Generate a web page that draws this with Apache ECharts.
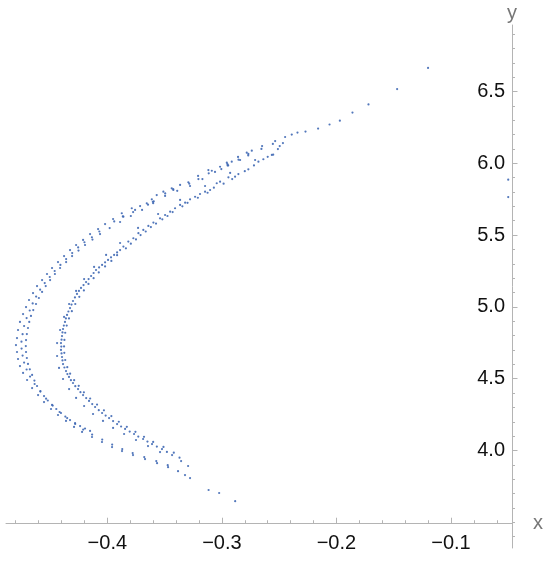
<!DOCTYPE html>
<html><head><meta charset="utf-8">
<script src="https://cdn.jsdelivr.net/npm/echarts@6/dist/echarts.min.js"></script>
<style>html,body{margin:0;padding:0;background:#fff}#c{width:550px;height:564px}</style>
</head><body><div id="c"></div>
<script>
// ---- data (x, y) ----
const tailPts = [[-0.120,6.664],[-0.147,6.517],[-0.172,6.410],[-0.186,6.353],[-0.197,6.297],[-0.206,6.270],[-0.216,6.242],[-0.227,6.221],[-0.234,6.214],[-0.239,6.200]];
const outerA = [[-0.2448,6.183],[-0.2535,6.155],[-0.2649,6.120],[-0.2739,6.088],[-0.2769,6.065],[-0.2783,6.074],[-0.2859,6.044],[-0.2914,6.011],[-0.2952,5.995],[-0.2957,6.004],[-0.3016,5.976],[-0.3088,5.948],[-0.3118,5.953],[-0.3208,5.912],[-0.3293,5.868],[-0.3365,5.849],[-0.3424,5.814],[-0.3438,5.826],[-0.3511,5.802],[-0.3569,5.779],[-0.3603,5.732],[-0.3612,5.749],[-0.3656,5.721],[-0.3714,5.702],[-0.3758,5.675],[-0.3787,5.687],[-0.3860,5.628],[-0.3874,5.652],[-0.3950,5.612],[-0.4020,5.577],[-0.4081,5.542],[-0.4151,5.507],[-0.4212,5.466],[-0.4273,5.431],[-0.4326,5.396],[-0.4378,5.354],[-0.4431,5.312],[-0.4483,5.271],[-0.4527,5.229],[-0.4570,5.187],[-0.4614,5.145],[-0.4649,5.096],[-0.4684,5.048],[-0.4710,4.999],[-0.4736,4.950],[-0.4763,4.895],[-0.4780,4.839],[-0.4789,4.783],[-0.4798,4.734],[-0.4789,4.686],[-0.4780,4.637],[-0.4763,4.588],[-0.4736,4.540],[-0.4701,4.491],[-0.4657,4.435],[-0.4605,4.386],[-0.4553,4.337],[-0.4492,4.289],[-0.4431,4.247],[-0.4361,4.206],[-0.4291,4.164],[-0.4221,4.129],[-0.4134,4.094],[-0.4047,4.059],[-0.3959,4.024],[-0.3872,3.996],[-0.3776,3.968],[-0.3671,3.940],[-0.3566,3.912],[-0.3470,3.884],[-0.3383,3.856]];
const outerA2 = [[-0.2841,6.023],[-0.3060,5.940],[-0.3278,5.842],[-0.3496,5.773],[-0.3697,5.675],[-0.3889,5.591],[-0.4064,5.507],[-0.4195,5.431],[-0.4308,5.354],[-0.4413,5.271],[-0.4500,5.187],[-0.4570,5.104],[-0.4623,5.020],[-0.4667,4.937],[-0.4693,4.853],[-0.4710,4.769],[-0.4710,4.686],[-0.4693,4.603],[-0.4657,4.526],[-0.4614,4.449],[-0.4553,4.379],[-0.4483,4.317],[-0.4405,4.261],[-0.4326,4.212],[-0.4238,4.170],[-0.4151,4.136]];
const outerA3 = [[-0.2555,6.135],[-0.2655,6.100],[-0.2770,6.055],[-0.2855,6.025],[-0.2945,5.985],[-0.3005,5.960],[-0.3115,5.930],[-0.3205,5.890],[-0.3285,5.858],[-0.3425,5.820],[-0.3495,5.790],[-0.3595,5.735],[-0.3645,5.712],[-0.3775,5.660],[-0.3865,5.630],[-0.3940,5.595],[-0.4070,5.525],[-0.4135,5.485],[-0.4200,5.450],[-0.4255,5.414],[-0.4307,5.375],[-0.4360,5.333],[-0.4410,5.292],[-0.4460,5.250],[-0.4503,5.208],[-0.4547,5.166],[-0.4587,5.120],[-0.4622,5.072],[-0.4652,5.024],[-0.4678,4.975],[-0.4705,4.922],[-0.4727,4.867],[-0.4740,4.810],[-0.4750,4.758],[-0.4749,4.710],[-0.4740,4.661],[-0.4727,4.612],[-0.4705,4.564],[-0.4675,4.515],[-0.4635,4.463],[-0.4585,4.410],[-0.4535,4.361],[-0.4477,4.313],[-0.4417,4.268],[-0.4351,4.226],[-0.4281,4.185],[-0.4211,4.146],[-0.4133,4.111],[-0.4045,4.076],[-0.3958,4.041],[-0.3870,4.010],[-0.3779,3.982],[-0.3678,3.954],[-0.3573,3.926],[-0.3473,3.898]];
const outerA4 = [[-0.2950,5.985],[-0.3170,5.890],[-0.3390,5.808],[-0.3600,5.722],[-0.3795,5.633],[-0.3980,5.549],[-0.4130,5.469],[-0.4252,5.392],[-0.4360,5.312],[-0.4458,5.229],[-0.4538,5.145],[-0.4598,5.062],[-0.4647,4.978],[-0.4682,4.895],[-0.4703,4.811],[-0.4712,4.727],[-0.4703,4.644],[-0.4677,4.565],[-0.4637,4.487],[-0.4585,4.414],[-0.4520,4.348],[-0.4446,4.289],[-0.4367,4.236],[-0.4282,4.191],[-0.4195,4.153]];
const innerB = [[-0.2467,6.141],[-0.2511,6.099],[-0.2552,6.060],[-0.2564,6.058],[-0.2638,6.028],[-0.2681,6.011],[-0.2769,5.958],[-0.2856,5.925],[-0.2885,5.907],[-0.2943,5.902],[-0.3016,5.872],[-0.3045,5.861],[-0.3103,5.814],[-0.3147,5.802],[-0.3191,5.786],[-0.3234,5.767],[-0.3278,5.749],[-0.3321,5.726],[-0.3365,5.710],[-0.3409,5.687],[-0.3452,5.663],[-0.3496,5.640],[-0.3540,5.617],[-0.3598,5.587],[-0.3642,5.564],[-0.3686,5.536],[-0.3729,5.513],[-0.3773,5.478],[-0.3817,5.455],[-0.3860,5.420],[-0.3889,5.396],[-0.3941,5.362],[-0.3994,5.327],[-0.4046,5.292],[-0.4099,5.257],[-0.4142,5.215],[-0.4186,5.173],[-0.4230,5.132],[-0.4265,5.090],[-0.4300,5.041],[-0.4326,4.992],[-0.4352,4.944],[-0.4370,4.895],[-0.4387,4.846],[-0.4396,4.797],[-0.4405,4.748],[-0.4405,4.700],[-0.4396,4.651],[-0.4387,4.602],[-0.4361,4.553],[-0.4335,4.512],[-0.4300,4.470],[-0.4256,4.428],[-0.4212,4.386],[-0.4160,4.345],[-0.4107,4.303],[-0.4046,4.261],[-0.3985,4.226],[-0.3915,4.184],[-0.3845,4.150],[-0.3767,4.115],[-0.3688,4.080],[-0.3610,4.045],[-0.3523,4.010],[-0.3435,3.968],[-0.3356,3.926],[-0.3295,3.892]];
const innerB2 = [[-0.2710,6.023],[-0.2928,5.933],[-0.3147,5.842],[-0.3365,5.745],[-0.3557,5.647],[-0.3732,5.550],[-0.3889,5.445],[-0.4011,5.362],[-0.4116,5.278],[-0.4203,5.194],[-0.4273,5.111],[-0.4334,5.020],[-0.4378,4.930],[-0.4413,4.839],[-0.4439,4.748],[-0.4439,4.658],[-0.4422,4.575],[-0.4387,4.498],[-0.4334,4.428],[-0.4273,4.366],[-0.4203,4.310],[-0.4125,4.254],[-0.4038,4.206],[-0.3950,4.157],[-0.3854,4.115],[-0.3750,4.073],[-0.3645,4.031],[-0.3540,3.989]];
const innerB3 = [[-0.2495,6.120],[-0.2600,6.045],[-0.2720,5.985],[-0.2800,5.945],[-0.2910,5.890],[-0.2985,5.858],[-0.3070,5.830],[-0.3125,5.795],[-0.3210,5.760],[-0.3300,5.725],[-0.3345,5.700],[-0.3430,5.660],[-0.3475,5.633],[-0.3520,5.610],[-0.3575,5.580],[-0.3620,5.556],[-0.3665,5.525],[-0.3710,5.500],[-0.3750,5.470],[-0.3795,5.440],[-0.3838,5.408],[-0.3915,5.360],[-0.3965,5.320],[-0.4020,5.282],[-0.4075,5.240],[-0.4120,5.200],[-0.4165,5.160],[-0.4205,5.115],[-0.4245,5.070],[-0.4280,5.020],[-0.4310,4.970],[-0.4335,4.920],[-0.4355,4.870],[-0.4368,4.820],[-0.4375,4.770],[-0.4378,4.725],[-0.4376,4.680],[-0.4368,4.630],[-0.4350,4.580],[-0.4325,4.535],[-0.4290,4.490],[-0.4250,4.450],[-0.4205,4.405],[-0.4150,4.362],[-0.4090,4.320],[-0.4030,4.280],[-0.3965,4.240],[-0.3900,4.200],[-0.3830,4.165],[-0.3755,4.130],[-0.3680,4.095],[-0.3600,4.060],[-0.3510,4.025],[-0.3420,3.985],[-0.3370,3.950]];
const innerB4 = [[-0.4400,4.772],[-0.4402,4.724],[-0.4400,4.676],[-0.4392,4.627],[-0.4375,4.578],[-0.4349,4.532],[-0.4318,4.490],[-0.4280,4.448],[-0.4235,4.406],[-0.4185,4.365],[-0.4132,4.323],[-0.4075,4.281],[-0.4015,4.243],[-0.3950,4.205],[-0.3880,4.167],[-0.3805,4.132],[-0.3730,4.097],[-0.3650,4.062],[-0.3568,4.027],[-0.3480,3.990],[-0.4392,4.822],[-0.4380,4.870],[-0.4362,4.920],[-0.4340,4.968],[-0.4313,5.016],[-0.4283,5.066],[-0.4248,5.111],[-0.4208,5.152],[-0.4164,5.194],[-0.4120,5.236],[-0.4072,5.275],[-0.4020,5.310],[-0.3968,5.345],[-0.3915,5.379]];
const lowerTail = [[-0.3322,3.829],[-0.3278,3.808],[-0.3116,3.725],[-0.3024,3.704],[-0.2884,3.647]];
const strayPts = [[-0.050,5.886],[-0.050,5.765]];

const xMajorTicks = [-0.4,-0.3,-0.2,-0.1];
const xMinorTicks = [-0.48,-0.46,-0.44,-0.42,-0.40,-0.38,-0.36,-0.34,-0.32,-0.30,-0.28,-0.26,-0.24,-0.22,-0.20,-0.18,-0.16,-0.14,-0.12,-0.10,-0.08,-0.06];
const yMajorTicks = [4.0,4.5,5.0,5.5,6.0,6.5];
const yMinorTicks = [3.4,3.5,3.6,3.7,3.8,3.9,4.0,4.1,4.2,4.3,4.4,4.5,4.6,4.7,4.8,4.9,5.0,5.1,5.2,5.3,5.4,5.5,5.6,5.7,5.8,5.9,6.0,6.1,6.2,6.3,6.4,6.5,6.6,6.7,6.8,6.9];
const xRange = [-0.4885, -0.0467];
const yRange = [3.321, 6.963];
const xAxisAtY = 3.49;

const allPts = [].concat(tailPts, outerA, outerA2, outerA3, outerA4, innerB, innerB2, innerB3, innerB4, lowerTail, strayPts);

const gridTop = 25, gridBottom = 16, H = 564;
const gridH = H - gridTop - gridBottom;
const xOffset = -(xAxisAtY - yRange[0]) / (yRange[1] - yRange[0]) * gridH;

const axisGray = '#b4b4b4';
const fmt = v => v.toFixed(1).replace('-', '\u2212');
const font = 'Liberation Sans, Arial, sans-serif';

const chart = echarts.init(document.getElementById('c'), null, {renderer: 'canvas'});
chart.setOption({
  animation: false,
  grid: {left: 6, right: 38, top: gridTop, bottom: gridBottom, containLabel: false, outerBoundsMode: 'none'},
  xAxis: [{
    type: 'value', min: xRange[0], max: xRange[1], position: 'bottom', offset: xOffset,
    name: 'x', nameLocation: 'end', nameGap: 21,
    nameTextStyle: {color: '#777', fontSize: 20, fontFamily: font, verticalAlign: 'middle'},
    axisLine: {onZero: false, lineStyle: {color: axisGray, width: 1}},
    axisTick: {inside: true, length: 6, lineStyle: {color: axisGray}, customValues: xMajorTicks},
    axisLabel: {customValues: xMajorTicks, formatter: fmt, color: '#111', fontSize: 20, fontFamily: font, margin: 10},
    splitLine: {show: false}
  }, {
    type: 'value', min: xRange[0], max: xRange[1], position: 'bottom', offset: xOffset,
    axisLine: {show: false, onZero: false},
    axisTick: {inside: true, length: 3.5, lineStyle: {color: axisGray}, customValues: xMinorTicks},
    axisLabel: {show: false},
    splitLine: {show: false}
  }],
  yAxis: [{
    type: 'value', min: yRange[0], max: yRange[1], position: 'right',
    name: 'y', nameLocation: 'end', nameGap: 2,
    nameTextStyle: {color: '#777', fontSize: 20, fontFamily: font, align: 'center'},
    axisLine: {onZero: false, lineStyle: {color: axisGray, width: 1}},
    axisTick: {inside: false, length: 5.5, lineStyle: {color: axisGray}, customValues: yMajorTicks},
    axisLabel: {inside: true, customValues: yMajorTicks, formatter: fmt, color: '#111', fontSize: 20, fontFamily: font, margin: 7},
    splitLine: {show: false}
  }, {
    type: 'value', min: yRange[0], max: yRange[1], position: 'right',
    axisLine: {show: false, onZero: false},
    axisTick: {inside: false, length: 3, lineStyle: {color: axisGray}, customValues: yMinorTicks},
    axisLabel: {show: false},
    splitLine: {show: false}
  }],
  series: [{
    type: 'scatter', xAxisIndex: 0, yAxisIndex: 0,
    data: allPts, symbol: 'circle', symbolSize: 2.2,
    itemStyle: {color: '#3f68b4', opacity: 0.9},
    silent: true
  }]
});
</script></body></html>
